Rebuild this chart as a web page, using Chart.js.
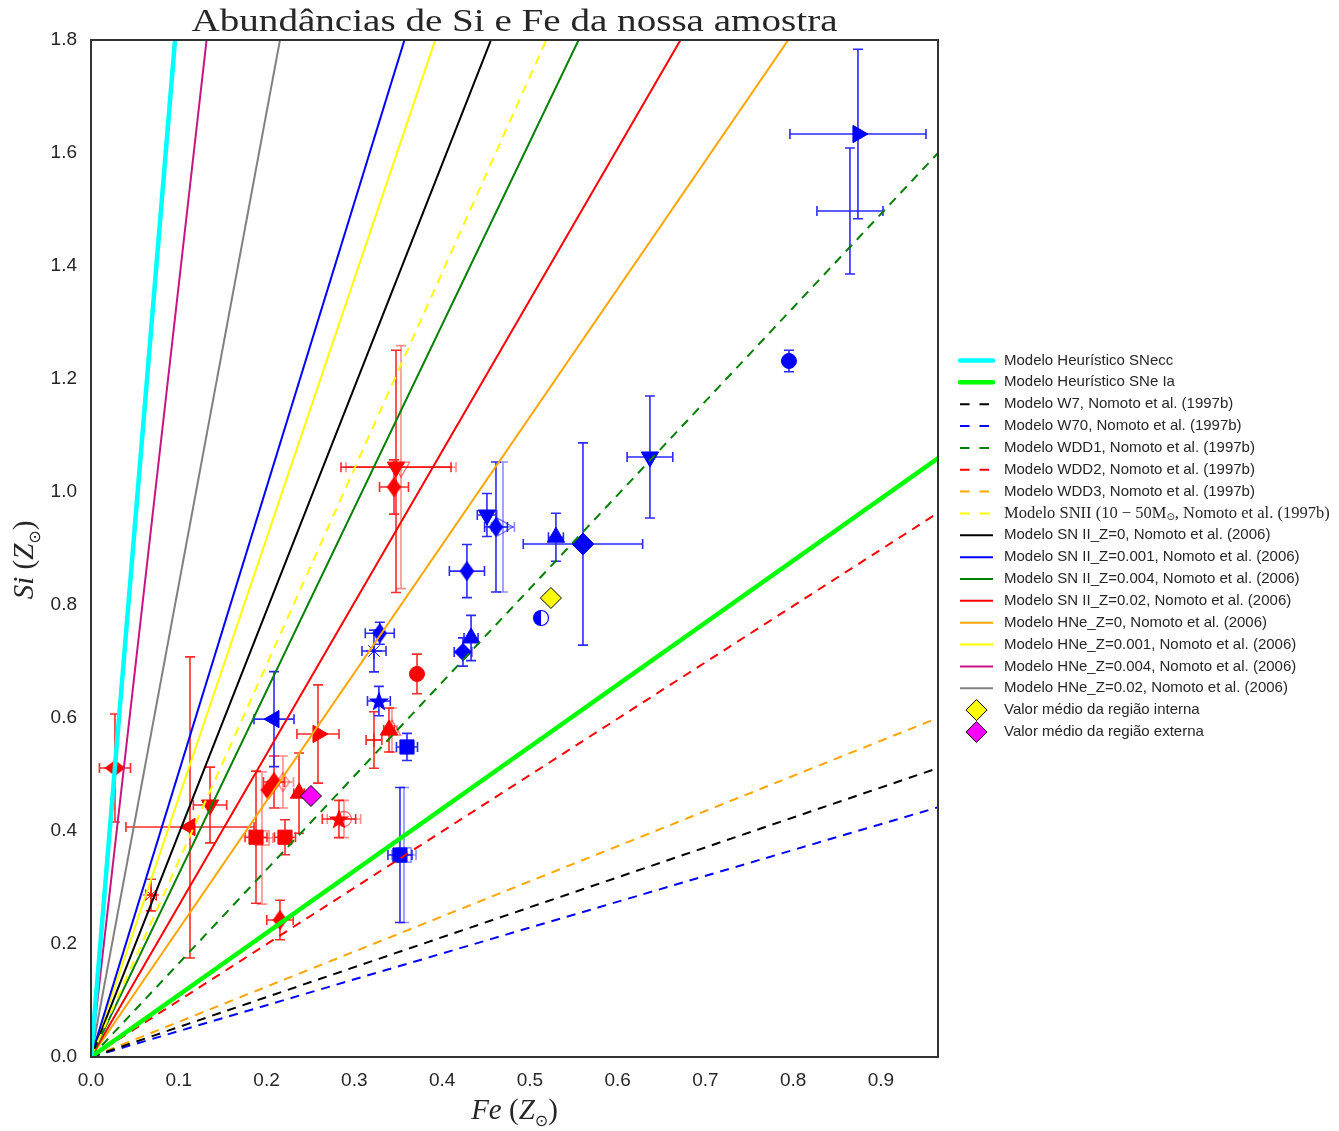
<!DOCTYPE html>
<html>
<head>
<meta charset="utf-8">
<script src="https://cdn.jsdelivr.net/npm/chart.js@4/dist/chart.umd.min.js"></script>
<style>
  html, body { margin: 0; padding: 0; background: #ffffff; }
  #wrap { width: 1339px; height: 1131px; position: relative; }
  canvas { display: block; }
</style>
</head>
<body>
<div id="wrap"><canvas id="chart" width="1339" height="1131"></canvas></div>
<script>
// ---- Axis ranges and ticks ----
const feMax = 0.965;
const siMax = 1.8;
const feTicks = [0.0, 0.1, 0.2, 0.3, 0.4, 0.5, 0.6, 0.7, 0.8, 0.9];
const siTicks = [0.0, 0.2, 0.4, 0.6, 0.8, 1.0, 1.2, 1.4, 1.6, 1.8];

// ---- Model lines: Si/Fe ratio (slope through the origin) ----
const modelNames = [
  'Modelo Heurístico SNecc',
  'Modelo Heurístico SNe Ia',
  'Modelo W7, Nomoto et al. (1997b)',
  'Modelo W70, Nomoto et al. (1997b)',
  'Modelo WDD1, Nomoto et al. (1997b)',
  'Modelo WDD2, Nomoto et al. (1997b)',
  'Modelo WDD3, Nomoto et al. (1997b)',
  'Modelo SNII (10 − 50M☉, Nomoto et al. (1997b)',
  'Modelo SN II_Z=0, Nomoto et al. (2006)',
  'Modelo SN II_Z=0.001, Nomoto et al. (2006)',
  'Modelo SN II_Z=0.004, Nomoto et al. (2006)',
  'Modelo SN II_Z=0.02, Nomoto et al. (2006)',
  'Modelo HNe_Z=0, Nomoto et al. (2006)',
  'Modelo HNe_Z=0.001, Nomoto et al. (2006)',
  'Modelo HNe_Z=0.004, Nomoto et al. (2006)',
  'Modelo HNe_Z=0.02, Nomoto et al. (2006)'
];
const modelRatios = [18.8, 1.098, 0.530, 0.458, 1.658, 0.998, 0.622, 3.47, 3.95, 5.04, 3.24, 2.68, 2.266, 4.59, 13.67, 8.36];
const modelColors = ['#00ffff', '#00ff00', '#000000', '#0000ff', '#008000', '#ff0000', '#ffa500', '#ffff00',
                     '#000000', '#0000ff', '#008000', '#ff0000', '#ffa500', '#ffff00', '#c71585', '#808080'];
const modelDashed = [false, false, true, true, true, true, true, true,
                     false, false, false, false, false, false, false, false];
const modelWidths = [4.5, 4.5, 2, 2, 2, 2, 2, 2, 2, 2, 2, 2, 2, 2, 2, 2];

// ---- Mean values of the two regions ----
const meanNames = ['Valor médio da região interna', 'Valor médio da região externa'];
const meanFe = [0.524, 0.2506];
const meanSi = [0.8124, 0.462];
const meanColors = ['#ffff00', '#ff00ff'];

// ---- Red sample ----
const redFe      = [0.0273, 0.1128, 0.1356, 0.0684, 0.1880, 0.2210, 0.2085, 0.2016, 0.2370, 0.2586, 0.2825, 0.2153, 0.3475, 0.3452, 0.3714, 0.3395, 0.3224];
const redSi      = [0.5115, 0.4071, 0.4460, 0.2867, 0.3890, 0.3890, 0.4867, 0.4726, 0.4670, 0.5717, 0.4212, 0.2425, 1.0440, 1.0088, 0.6780, 0.5788, 0.5610];
const redFeErr   = [0.0177, 0.0730, 0.0190, 0.0060, 0.0125, 0.0120, 0.0120, 0.0000, 0.0060, 0.0240, 0.0190, 0.0150, 0.0627, 0.0165, 0.0000, 0.0060, 0.0090];
const redSiErrLo = [0.0956, 0.2320, 0.0670, 0.0280, 0.1170, 0.0310, 0.0460, 0.0000, 0.0710, 0.0870, 0.0330, 0.0350, 0.2220, 0.0480, 0.0350, 0.0390, 0.0500];
const redSiErrHi = [0.0956, 0.3010, 0.0670, 0.0280, 0.1170, 0.0310, 0.0460, 0.0000, 0.0710, 0.0870, 0.0330, 0.0350, 0.2070, 0.0480, 0.0350, 0.0390, 0.0500];
const redMarkers = ['wide', 'triL', 'triD', 'asterisk', 'square', 'square', 'thin', 'thin', 'triU', 'triR', 'star5', 'thin', 'triD', 'thin', 'circle', 'triU', 'plus'];

// Red sample, second fit (open symbols)
const redAltFe      = [0.1948, 0.2187, 0.3532, 0.3429, 0.2882];
const redAltSi      = [0.3876, 0.4867, 1.0440, 0.5788, 0.4212];
const redAltFeErr   = [0.0125, 0.0120, 0.0627, 0.0060, 0.0190];
const redAltSiErr   = [0.1170, 0.0460, 0.2150, 0.0390, 0.0330];
const redAltMarkers = ['square', 'thin', 'triD', 'triU', 'circle'];

// ---- Blue sample ----
const blueFe      = [0.2085, 0.3520, 0.3600, 0.3280, 0.3224, 0.3290, 0.4283, 0.4238, 0.4330, 0.4511, 0.4614, 0.5297, 0.5605, 0.5127, 0.6368, 0.7952, 0.8738, 0.8647];
const blueSi      = [0.5980, 0.3575, 0.5487, 0.6300, 0.7186, 0.7500, 0.8600, 0.7168, 0.7416, 0.9593, 0.9380, 0.9200, 0.9080, 0.7770, 1.0620, 1.2319, 1.6336, 1.4973];
const blueFeErr   = [0.0228, 0.0137, 0.0120, 0.0130, 0.0137, 0.0165, 0.0200, 0.0100, 0.0080, 0.0110, 0.0130, 0.0085, 0.0680, 0.0000, 0.0260, 0.0000, 0.0775, 0.0376];
const blueSiErr   = [0.0840, 0.1195, 0.0240, 0.0260, 0.0370, 0.0195, 0.0470, 0.0250, 0.0400, 0.0380, 0.1150, 0.0425, 0.1790, 0.0000, 0.1080, 0.0190, 0.1500, 0.1115];
const blueMarkers = ['triL', 'square', 'square', 'star5', 'asterisk', 'thin', 'thin', 'diamond', 'triU', 'triD', 'thin', 'triU', 'bigDiamond', 'half', 'triD', 'circle', 'triR', 'none'];

// Blue sample, second fit (open symbols)
const blueAltFe      = [0.3566, 0.4694];
const blueAltSi      = [0.3575, 0.9380];
const blueAltFeErr   = [0.0137, 0.0130];
const blueAltSiErr   = [0.1195, 0.1150];
const blueAltMarkers = ['square', 'triR'];

// ---------------------------------------------------------------
const TEXT = '#262626';

// Small canvases for marker shapes Chart.js does not provide
function markerCanvas(kind, fill, stroke) {
  const c = document.createElement('canvas');
  let w = 20, h = 20;
  if (kind === 'thin') { w = 15; h = 20; }
  if (kind === 'wide') { w = 21; h = 16; }
  if (kind === 'half') { w = 18; h = 18; }
  c.width = w; c.height = h;
  const g = c.getContext('2d');
  g.lineWidth = 1.2;
  g.strokeStyle = stroke;
  g.fillStyle = fill;
  g.beginPath();
  if (kind === 'thin' || kind === 'wide') {
    g.moveTo(w / 2, 0.8); g.lineTo(w - 1, h / 2); g.lineTo(w / 2, h - 0.8); g.lineTo(1, h / 2); g.closePath();
    g.fill(); g.stroke();
  } else if (kind === 'star5') {
    const R = 9, r = 3.7, cx = w / 2, cy = h / 2 + 0.8;
    for (let k = 0; k < 10; k++) {
      const a = -Math.PI / 2 + k * Math.PI / 5;
      const rr = k % 2 === 0 ? R : r;
      const px = cx + rr * Math.cos(a), py = cy + rr * Math.sin(a);
      if (k === 0) g.moveTo(px, py); else g.lineTo(px, py);
    }
    g.closePath(); g.fill(); g.stroke();
  } else if (kind === 'half') {
    const cx = w / 2, cy = h / 2, r = 7.5;
    g.fillStyle = '#ffffff';
    g.arc(cx, cy, r, 0, Math.PI * 2); g.fill();
    g.beginPath(); g.fillStyle = fill;
    g.arc(cx, cy, r, Math.PI / 2, Math.PI * 1.5); g.closePath(); g.fill();
    g.beginPath(); g.arc(cx, cy, r, 0, Math.PI * 2); g.stroke();
  }
  return c;
}

function styleFor(kind, fill, stroke) {
  switch (kind) {
    case 'triU': return { style: 'triangle', rot: 0, r: 10 };
    case 'triD': return { style: 'triangle', rot: 180, r: 10 };
    case 'triL': return { style: 'triangle', rot: -90, r: 10 };
    case 'triR': return { style: 'triangle', rot: 90, r: 10 };
    case 'square': return { style: 'rect', rot: 0, r: 10 };
    case 'circle': return { style: 'circle', rot: 0, r: 7.5 };
    case 'diamond': return { style: 'rectRot', rot: 0, r: 8.5 };
    case 'bigDiamond': return { style: 'rectRot', rot: 0, r: 11 };
    case 'asterisk': return { style: 'star', rot: 0, r: 8 };
    case 'plus': return { style: 'cross', rot: 0, r: 7 };
    case 'none': return { style: 'circle', rot: 0, r: 0 };
    default: return { style: markerCanvas(kind, fill, stroke), rot: 0, r: 10 };
  }
}

function sampleDataset(label, fe, si, feErr, siLo, siHi, markers, color, errColor, open) {
  const fill = open ? 'rgba(0,0,0,0)' : color;
  const styles = markers.map(m => styleFor(m, open ? 'rgba(255,255,255,0)' : color, color));
  return {
    label,
    data: fe.map((v, i) => ({ x: v, y: si[i] })),
    feErr, siLo, siHi, errColor,
    showLine: false,
    pointStyle: styles.map(s => s.style),
    pointRotation: styles.map(s => s.rot),
    pointRadius: styles.map(s => s.r),
    pointBackgroundColor: fill,
    pointBorderColor: color,
    pointBorderWidth: open ? 1.3 : 1,
    order: 3,
    clip: false
  };
}

const datasets = [];

// mean values on top
meanNames.forEach((name, i) => {
  datasets.push({
    label: name,
    data: [{ x: meanFe[i], y: meanSi[i] }],
    showLine: false,
    pointStyle: 'rectRot',
    pointRadius: 10.5,
    pointBackgroundColor: meanColors[i],
    pointBorderColor: '#000000',
    pointBorderWidth: 1,
    order: 0
  });
});

// model lines
modelNames.forEach((name, i) => {
  datasets.push({
    label: name,
    data: [{ x: 0, y: 0 }, { x: 1, y: modelRatios[i] }],
    showLine: true,
    borderColor: modelColors[i],
    borderWidth: modelWidths[i],
    borderDash: modelDashed[i] ? [9, 7] : [],
    pointRadius: 0,
    order: 1,
    clip: 0
  });
});

datasets.push(sampleDataset('Vermelho', redFe, redSi, redFeErr, redSiErrLo, redSiErrHi, redMarkers,
  '#ff0000', '#ff2a2a', false));
datasets.push(sampleDataset('Vermelho (2)', redAltFe, redAltSi, redAltFeErr, redAltSiErr, redAltSiErr, redAltMarkers,
  'rgba(255,0,0,0.55)', 'rgba(255,0,0,0.45)', true));
datasets.push(sampleDataset('Azul', blueFe, blueSi, blueFeErr, blueSiErr, blueSiErr, blueMarkers,
  '#0000ff', '#2a2aff', false));
datasets.push(sampleDataset('Azul (2)', blueAltFe, blueAltSi, blueAltFeErr, blueAltSiErr, blueAltSiErr, blueAltMarkers,
  'rgba(0,0,255,0.55)', 'rgba(0,0,255,0.45)', true));

// error bars with caps
const errorBars = {
  id: 'errorBars',
  beforeDatasetsDraw(chart) {
    const { ctx, chartArea, scales: { x, y } } = chart;
    ctx.save();
    ctx.beginPath();
    ctx.rect(chartArea.left, chartArea.top, chartArea.right - chartArea.left, chartArea.bottom - chartArea.top);
    ctx.clip();
    ctx.lineWidth = 1.6;
    const cap = 5;
    chart.data.datasets.forEach(ds => {
      if (!ds.feErr) return;
      ctx.strokeStyle = ds.errColor;
      ds.data.forEach((p, j) => {
        const px = x.getPixelForValue(p.x), py = y.getPixelForValue(p.y);
        const ex = ds.feErr[j] || 0, lo = ds.siLo[j] || 0, hi = ds.siHi[j] || 0;
        if (ex > 0) {
          const x0 = x.getPixelForValue(p.x - ex), x1 = x.getPixelForValue(p.x + ex);
          ctx.beginPath();
          ctx.moveTo(x0, py); ctx.lineTo(x1, py);
          ctx.moveTo(x0, py - cap); ctx.lineTo(x0, py + cap);
          ctx.moveTo(x1, py - cap); ctx.lineTo(x1, py + cap);
          ctx.stroke();
        }
        if (lo > 0 || hi > 0) {
          const y0 = y.getPixelForValue(p.y - lo), y1 = y.getPixelForValue(p.y + hi);
          ctx.beginPath();
          ctx.moveTo(px, y0); ctx.lineTo(px, y1);
          ctx.moveTo(px - cap, y0); ctx.lineTo(px + cap, y0);
          ctx.moveTo(px - cap, y1); ctx.lineTo(px + cap, y1);
          ctx.stroke();
        }
      });
    });
    ctx.restore();
  }
};

// draws text pieces left to right; each piece: [text, font, dy]
function drawPieces(ctx, pieces, x, y, align) {
  let total = 0;
  pieces.forEach(p => { ctx.font = p[1]; total += ctx.measureText(p[0]).width; });
  let cx = align === 'center' ? x - total / 2 : x;
  ctx.textAlign = 'left';
  pieces.forEach(p => {
    ctx.font = p[1];
    ctx.fillText(p[0], cx, y + (p[2] || 0));
    cx += ctx.measureText(p[0]).width;
  });
}

const decorations = {
  id: 'decorations',
  afterDraw(chart) {
    const { ctx, chartArea: a } = chart;
    ctx.save();
    // frame
    ctx.strokeStyle = '#333333';
    ctx.lineWidth = 2;
    ctx.strokeRect(a.left, a.top, a.right - a.left, a.bottom - a.top);

    // title, stretched to the width of the plot's title line
    ctx.fillStyle = TEXT;
    ctx.textBaseline = 'alphabetic';
    const title = 'Abundâncias de Si e Fe da nossa amostra';
    ctx.font = '32px "Liberation Serif"';
    const tw = ctx.measureText(title).width;
    ctx.save();
    ctx.translate((a.left + a.right) / 2, 31);
    ctx.scale(646 / tw, 1);
    ctx.textAlign = 'center';
    ctx.fillText(title, 0, 0);
    ctx.restore();

    // axis titles
    const it = 'italic 29px "Liberation Serif"', up = '29px "Liberation Serif"', sub = '16px "DejaVu Sans"';
    drawPieces(ctx, [['Fe', it], [' (', up], ['Z', it], ['⊙', sub, 7], [')', up]], (a.left + a.right) / 2, 1119, 'center');
    ctx.save();
    ctx.translate(33, 560);
    ctx.rotate(-Math.PI / 2);
    drawPieces(ctx, [['Si', it], [' (', up], ['Z', it], ['⊙', sub, 7], [')', up]], 0, 0, 'center');
    ctx.restore();

    // legend
    const lx0 = 960, lx1 = 993, tx = 1004, top = 360.5, step = 21.85;
    ctx.textBaseline = 'middle';
    modelNames.forEach((name, i) => {
      const yy = top + i * step;
      ctx.save();
      ctx.strokeStyle = modelColors[i];
      ctx.lineWidth = modelWidths[i];
      ctx.lineCap = modelWidths[i] > 3 ? 'round' : 'butt';
      ctx.setLineDash(modelDashed[i] ? [9.5, 10] : []);
      ctx.beginPath(); ctx.moveTo(lx0, yy); ctx.lineTo(lx1, yy); ctx.stroke();
      ctx.restore();
      ctx.fillStyle = TEXT;
      if (name.indexOf('☉') >= 0) {
        const sf = '16.5px "Liberation Serif"';
        const parts = name.split('☉');
        drawPieces(ctx, [[parts[0], sf], ['⊙', '10px "DejaVu Sans"', 4], [parts[1], sf]], tx, yy, 'left');
      } else {
        ctx.font = '15px "Liberation Sans"';
        ctx.textAlign = 'left';
        ctx.fillText(name, tx, yy);
      }
    });
    meanNames.forEach((name, i) => {
      const yy = top + (modelNames.length + i) * step;
      ctx.beginPath();
      ctx.moveTo(976.5, yy - 10.5); ctx.lineTo(987, yy); ctx.lineTo(976.5, yy + 10.5); ctx.lineTo(966, yy); ctx.closePath();
      ctx.fillStyle = meanColors[i]; ctx.fill();
      ctx.strokeStyle = '#000000'; ctx.lineWidth = 1; ctx.stroke();
      ctx.fillStyle = TEXT;
      ctx.font = '15px "Liberation Sans"';
      ctx.textAlign = 'left';
      ctx.fillText(name, tx, yy);
    });
    ctx.restore();
  }
};

const tickFont = { family: '"Liberation Sans", Arial, sans-serif', size: 19 };

new Chart(document.getElementById('chart'), {
  type: 'scatter',
  data: { datasets },
  plugins: [errorBars, decorations],
  options: {
    responsive: false,
    animation: false,
    devicePixelRatio: 1,
    events: [],
    layout: { padding: { left: 0, right: 401, top: 40, bottom: 0 } },
    plugins: { legend: { display: false }, title: { display: false }, tooltip: { enabled: false } },
    scales: {
      x: {
        type: 'linear', min: 0, max: feMax,
        grid: { display: false, drawTicks: false },
        border: { display: false },
        ticks: { padding: 12, color: TEXT, font: tickFont, callback: v => Number(v).toFixed(1) },
        afterBuildTicks: s => { s.ticks = feTicks.map(v => ({ value: v })); },
        afterFit: s => { s.height = 74; }
      },
      y: {
        type: 'linear', min: 0, max: siMax,
        grid: { display: false, drawTicks: false },
        border: { display: false },
        ticks: { padding: 14, color: TEXT, font: tickFont, callback: v => Number(v).toFixed(1) },
        afterBuildTicks: s => { s.ticks = siTicks.map(v => ({ value: v })); },
        afterFit: s => { s.width = 91; }
      }
    }
  }
});
</script>
</body>
</html>
